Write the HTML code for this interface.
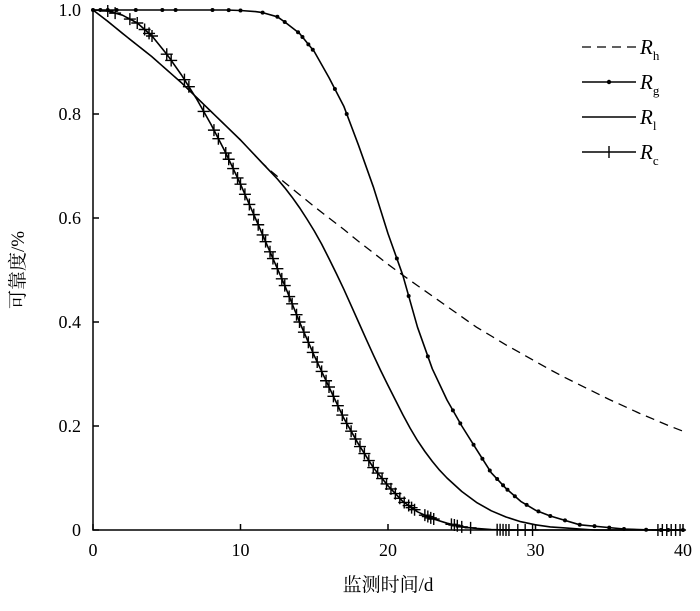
<!DOCTYPE html>
<html><head><meta charset="utf-8">
<style>
body{margin:0;background:#fff;}
svg{display:block;font-family:"Liberation Serif","Noto Serif CJK SC",serif;}
</style></head>
<body>
<svg id="chart" width="700" height="611" viewBox="0 0 700 611">
<g id="axes"></g>
<g id="series"></g>
<g id="legend"></g>
<text x="388" y="591" font-size="19" text-anchor="middle">监测时间/d</text>
<text transform="translate(24,270) rotate(-90)" font-size="19" text-anchor="middle">可靠度/%</text>
</svg>
<script>
const xTicks=[0,10,20,30,40];
const yTicks=[0,0.2,0.4,0.6,0.8,1.0];
const yTickLabels=["0","0.2","0.4","0.6","0.8","1.0"];
const rhX=[0,1,2,4,6,8,10,11.5,12,13,14,15,16,17,18,19,20,21,22,23,24,25,26,27,28,29,30,31,32,33,34,35,36,37,38,39,40];
const rhY=[1.0,0.978,0.955,0.91,0.86,0.805,0.75,0.705,0.692,0.668,0.645,0.622,0.6,0.578,0.555,0.533,0.511,0.49,0.47,0.45,0.43,0.41,0.39,0.373,0.356,0.34,0.324,0.308,0.293,0.279,0.265,0.251,0.238,0.225,0.213,0.201,0.19];
const rlX=[0,1,2,4,6,8,10,11.5,12,12.5,13,13.5,14,14.5,15,15.5,16,16.5,17,17.5,18,18.5,19,19.5,20,20.5,21,21.5,22,22.5,23,23.5,24,25,26,27,28,29,30,31,32,33,34,40];
const rlY=[1.0,0.978,0.955,0.91,0.86,0.805,0.75,0.705,0.69,0.675,0.658,0.64,0.62,0.598,0.575,0.55,0.522,0.493,0.463,0.432,0.40,0.368,0.337,0.307,0.278,0.25,0.222,0.196,0.172,0.151,0.132,0.115,0.1,0.074,0.053,0.037,0.025,0.016,0.01,0.006,0.004,0.002,0.0,0.0];
const rgX=[0,9,10,11,11.5,12.5,13,14,15,16,17,18,19,20,21,22,23,24,25,26,27,28,29,30,31,33,36,38,40];
const rgY=[1.0,1.0,0.999,0.997,0.995,0.987,0.977,0.955,0.92,0.87,0.815,0.74,0.66,0.57,0.49,0.39,0.31,0.25,0.20,0.155,0.11,0.08,0.055,0.038,0.027,0.01,0.002,0.0,0.0];
const rgMarks=[0,0.5,1,1.6,2.9,4.7,5.6,8.1,9.2,10,11.5,12.5,13,13.9,14.2,14.6,14.9,16.4,17.2,20.6,21.4,22.7,24.4,24.9,25.8,26.4,26.9,27.4,27.8,28.1,28.6,29.4,30.2,31,32,33,34,35,36,37.5,38.5,39,40];
const rcX=[0,1,2,3,4,5,6,7,8,9,10,11,12,13,14,15,16,17,18,19,20,21,22,23,24,25,26,27,28,40];
const rcY=[1.0,0.998,0.99,0.975,0.95,0.915,0.875,0.83,0.78,0.725,0.665,0.60,0.535,0.47,0.40,0.335,0.275,0.215,0.165,0.12,0.085,0.055,0.035,0.022,0.013,0.006,0.003,0.001,0.0,0.0];
const rcMarks=[1,1.5,2.5,3,3.5,3.8,4,5,5.3,6.2,6.5,7.5,8.2,8.5,9,9.2,9.5,9.8,10,10.3,10.6,10.9,11.2,11.5,11.7,12,12.2,12.5,12.8,13,13.3,13.5,13.8,14,14.3,14.6,14.9,15.2,15.5,15.8,16,16.3,16.6,16.9,17.2,17.5,17.8,18.1,18.4,18.7,19,19.3,19.6,19.9,20.2,20.5,20.8,21.1,21.4,21.6,21.8,22.5,22.7,22.9,23.1,24.3,24.5,24.7,25,25.6,27.4,27.6,27.8,28,28.2,28.8,29.3,29.8,38.3,38.6,38.9,39.2,39.5,39.8];

const NS="http://www.w3.org/2000/svg";
const X0=93,X1=683,Y0=530,Y1=10;
const sx=v=>X0+(v-0)/40*(X1-X0);
const sy=v=>Y0-(v-0)/1*(Y0-Y1);
function mk(tag,attrs,parent){const e=document.createElementNS(NS,tag);for(const k in attrs)e.setAttribute(k,attrs[k]);parent.appendChild(e);return e;}
function interp(xs,ys,x){for(let i=0;i<xs.length-1;i++){if(x>=xs[i]&&x<=xs[i+1]){const t=(x-xs[i])/(xs[i+1]-xs[i]);return ys[i]+t*(ys[i+1]-ys[i]);}}return ys[ys.length-1];}
function pathOf(xs,ys){return xs.map((x,i)=>(i?'L':'M')+sx(x).toFixed(1)+','+sy(ys[i]).toFixed(1)).join(' ');}

const axes=document.getElementById('axes');
const ax=mk('path',{d:`M${X0},${Y1} L${X0},${Y0} L${X1},${Y0}`,fill:'none',stroke:'#000','stroke-width':1.5},axes);


xTicks.forEach(v=>{
  const t=mk('line',{x1:sx(v),x2:sx(v),y1:Y0,y2:Y0-6,stroke:'#000','stroke-width':1.5},axes);
  
  
  const l=mk('text',{x:sx(v),y:556,'font-size':18,'text-anchor':'middle'},axes);
  l.textContent=v;
  
  
});
yTicks.forEach((v,i)=>{
  const t=mk('line',{x1:X0,x2:X0+6,y1:sy(v),y2:sy(v),stroke:'#000','stroke-width':1.5},axes);
  
  
  const l=mk('text',{x:X0-12,y:sy(v)+6,'font-size':18,'text-anchor':'end'},axes);
  l.textContent=yTickLabels[i];
  
  
});

const ser=document.getElementById('series');
const ph=mk('path',{d:pathOf(rhX,rhY),fill:'none',stroke:'#000','stroke-width':1.3,'stroke-dasharray':'9,6'},ser);


const pl=mk('path',{d:pathOf(rlX,rlY),fill:'none',stroke:'#000','stroke-width':1.6,'stroke-linejoin':'round'},ser);


const pg=mk('path',{d:pathOf(rgX,rgY),fill:'none',stroke:'#000','stroke-width':1.6,'stroke-linejoin':'round'},ser);


rgMarks.forEach(x=>{
  const c=mk('circle',{cx:sx(x),cy:sy(interp(rgX,rgY,x)),r:2,fill:'#000'},ser);
  
  
});
const pc=mk('path',{d:pathOf(rcX,rcY),fill:'none',stroke:'#000','stroke-width':1.6,'stroke-linejoin':'round'},ser);


rcMarks.forEach(x=>{
  const cx=sx(x),cy=sy(interp(rcX,rcY,x));
  const m=mk('path',{d:`M${cx-6},${cy} L${cx+6},${cy} M${cx},${cy-6} L${cx},${cy+6}`,stroke:'#000','stroke-width':1.4},ser);
  
  
});

const leg=document.getElementById('legend');
const items=[['h','dash'],['g','dot'],['l','line'],['c','plus']];
items.forEach((it,i)=>{
  const y=47+i*35;
  const g=mk('g',{},leg);
  
  
  mk('line',{x1:582,x2:636,y1:y,y2:y,stroke:'#000','stroke-width':it[1]=='dash'?1.3:1.6,'stroke-dasharray':it[1]=='dash'?'9,6':'none'},g);
  if(it[1]=='dot')mk('circle',{cx:609,cy:y,r:2.2,fill:'#000'},g);
  if(it[1]=='plus')mk('line',{x1:609,x2:609,y1:y-6,y2:y+6,stroke:'#000','stroke-width':1.4},g);
  const t=mk('text',{x:640,y:y+7,'font-size':21,'font-style':'italic'},g);
  t.textContent='R';
  const s=mk('tspan',{'font-size':13,'font-style':'normal',dy:6},t);
  s.textContent=it[0];
});
</script>
</body></html>
